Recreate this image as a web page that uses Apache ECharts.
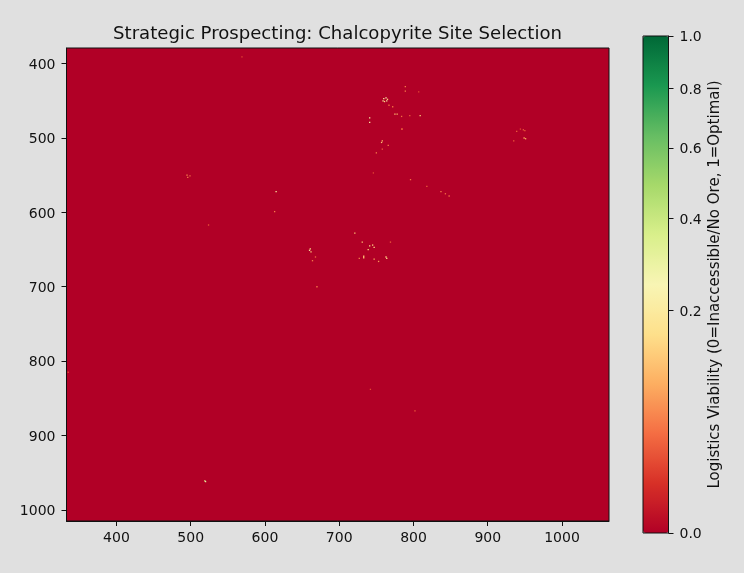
<!DOCTYPE html>
<html>
<head>
<meta charset="utf-8">
<style>html,body{margin:0;padding:0;background:#e0e0e0}#c{width:744px;height:573px}</style>
<script src="https://cdn.jsdelivr.net/npm/echarts@6/dist/echarts.min.js"></script>
</head>
<body>
<div id="c"></div>
<script>
const titleText = 'Strategic Prospecting: Chalcopyrite Site Selection';
const colorbarName = 'Logistics Viability (0=Inaccessible/No Ore, 1=Optimal)';
const xTicks = [400, 500, 600, 700, 800, 900, 1000];
const yTicks = [400, 500, 600, 700, 800, 900, 1000];
const cbarTicks = [0, 0.2, 0.4, 0.6, 0.8, 1.0];
const ramp = ['#b10026','#d73027','#f46d43','#fdae61','#fee08b','#f8f5b4','#d9ef8b','#a6d96a','#66bd63','#1a9850','#006837'];

const siteX = [760,763,759,764,761,765,741,741,775,778,767,772,784,795,809,789,789,807,784,785,
  757,758,766,758,750,746,948,939,944,950,949,951,935,796,818,837,843,848,
  495,499,496,615,613,524,661,660,662,668,664,
  721,731,739,741,745,747,727,733,733,747,753,763,764,769,
  670,569,335,519,520,802,742];
const siteY = [447,446,450,450,451,448,473,479,468,468,456,458,471,470,470,431,437,438,488,488,
  506,504,510,515,520,547,489,491,488,490,500,501,504,556,565,572,575,578,
  550,551,553,572,599,617,649,651,653,660,665,
  628,640,650,645,644,647,662,659,661,663,666,660,662,640,
  700,391,815,961,962,867,838];
const siteViability = [0.2,0.25,0.18,0.2,0.15,0.14,0.22,0.22,0.12,0.1,0.04,0.04,0.04,0.03,0.13,0.05,0.05,0.02,0.04,0.03,
  0.12,0.1,0.05,0.03,0.05,0.02,0.03,0.03,0.02,0.03,0.08,0.09,0.03,0.04,0.03,0.05,0.04,0.04,
  0.06,0.04,0.05,0.2,0.05,0.03,0.16,0.2,0.14,0.04,0.05,
  0.12,0.12,0.14,0.16,0.14,0.16,0.05,0.12,0.12,0.09,0.07,0.14,0.16,0.03,
  0.05,0.02,0.02,0.35,0.3,0.03,0.02];

const ink = '#111111';
const fontFamily = '"DejaVu Sans"';
const fs = 14;

const chart = echarts.init(document.getElementById('c'), null, {renderer: 'canvas'});
const siteData = siteX.map((x, i) => [x, siteY[i], Math.sqrt(siteViability[i])]);

function axisParts(ticks, margin, labelExtra, formatter) {
  return {
    axisLine: {show: true, onZero: false, lineStyle: {color: ink, width: 1}},
    axisTick: {show: true, length: 5, lineStyle: {color: ink, width: 1}, customValues: ticks},
    axisLabel: Object.assign({color: ink, fontSize: fs, fontFamily, margin, customValues: ticks, formatter}, labelExtra),
    splitLine: {show: false}
  };
}
const plain = v => String(v);

chart.setOption({
  backgroundColor: '#e0e0e0',
  animation: false,
  title: {
    text: titleText, left: 332.5, top: 20, textAlign: 'center',
    textStyle: {color: ink, fontSize: 18.1, fontWeight: 'normal', fontFamily}
  },
  grid: [
    {left: 66.5, top: 48, width: 542.5, height: 473, show: true, backgroundColor: ramp[0], borderColor: ink, borderWidth: 1},
    {left: 643, top: 36, width: 25.5, height: 497, show: true, backgroundColor: 'transparent', borderColor: ink, borderWidth: 1, z: 10}
  ],
  xAxis: [
    Object.assign({type: 'value', gridIndex: 0, min: 332.7, max: 1063.3, position: 'bottom'}, axisParts(xTicks, 10, {}, plain)),
    {gridIndex: 1, type: 'value', min: 0, max: 1, show: false}
  ],
  yAxis: [
    Object.assign({type: 'value', gridIndex: 0, min: 379, max: 1015, inverse: true, position: 'left'},
      axisParts(yTicks, 11, {verticalAlign: 'top', lineHeight: 3}, plain)),
    Object.assign({type: 'value', gridIndex: 1, min: 0, max: 1, position: 'right', z: 10,
      name: colorbarName, nameLocation: 'middle', nameRotate: 90, nameGap: 39,
      nameTextStyle: {color: ink, fontSize: 15, fontFamily}},
      axisParts(cbarTicks.map(Math.sqrt), 11, {verticalAlign: 'top', lineHeight: 3}, s => (s * s).toFixed(1)))
  ],
  visualMap: {
    type: 'continuous', min: 0, max: 1, dimension: 2, seriesIndex: 0,
    left: 643, top: 36, itemWidth: 25.5, itemHeight: 497, padding: 0,
    calculable: false, realtime: false, text: null, showLabel: false, hoverLink: false,
    inRange: {color: ramp},
    textStyle: {color: 'transparent', fontSize: 0}
  },
  series: [{
    type: 'scatter', xAxisIndex: 0, yAxisIndex: 0, symbol: 'rect', symbolSize: 1.3,
    data: siteData, silent: true, itemStyle: {opacity: 1}
  }]
});
</script>
</body>
</html>
